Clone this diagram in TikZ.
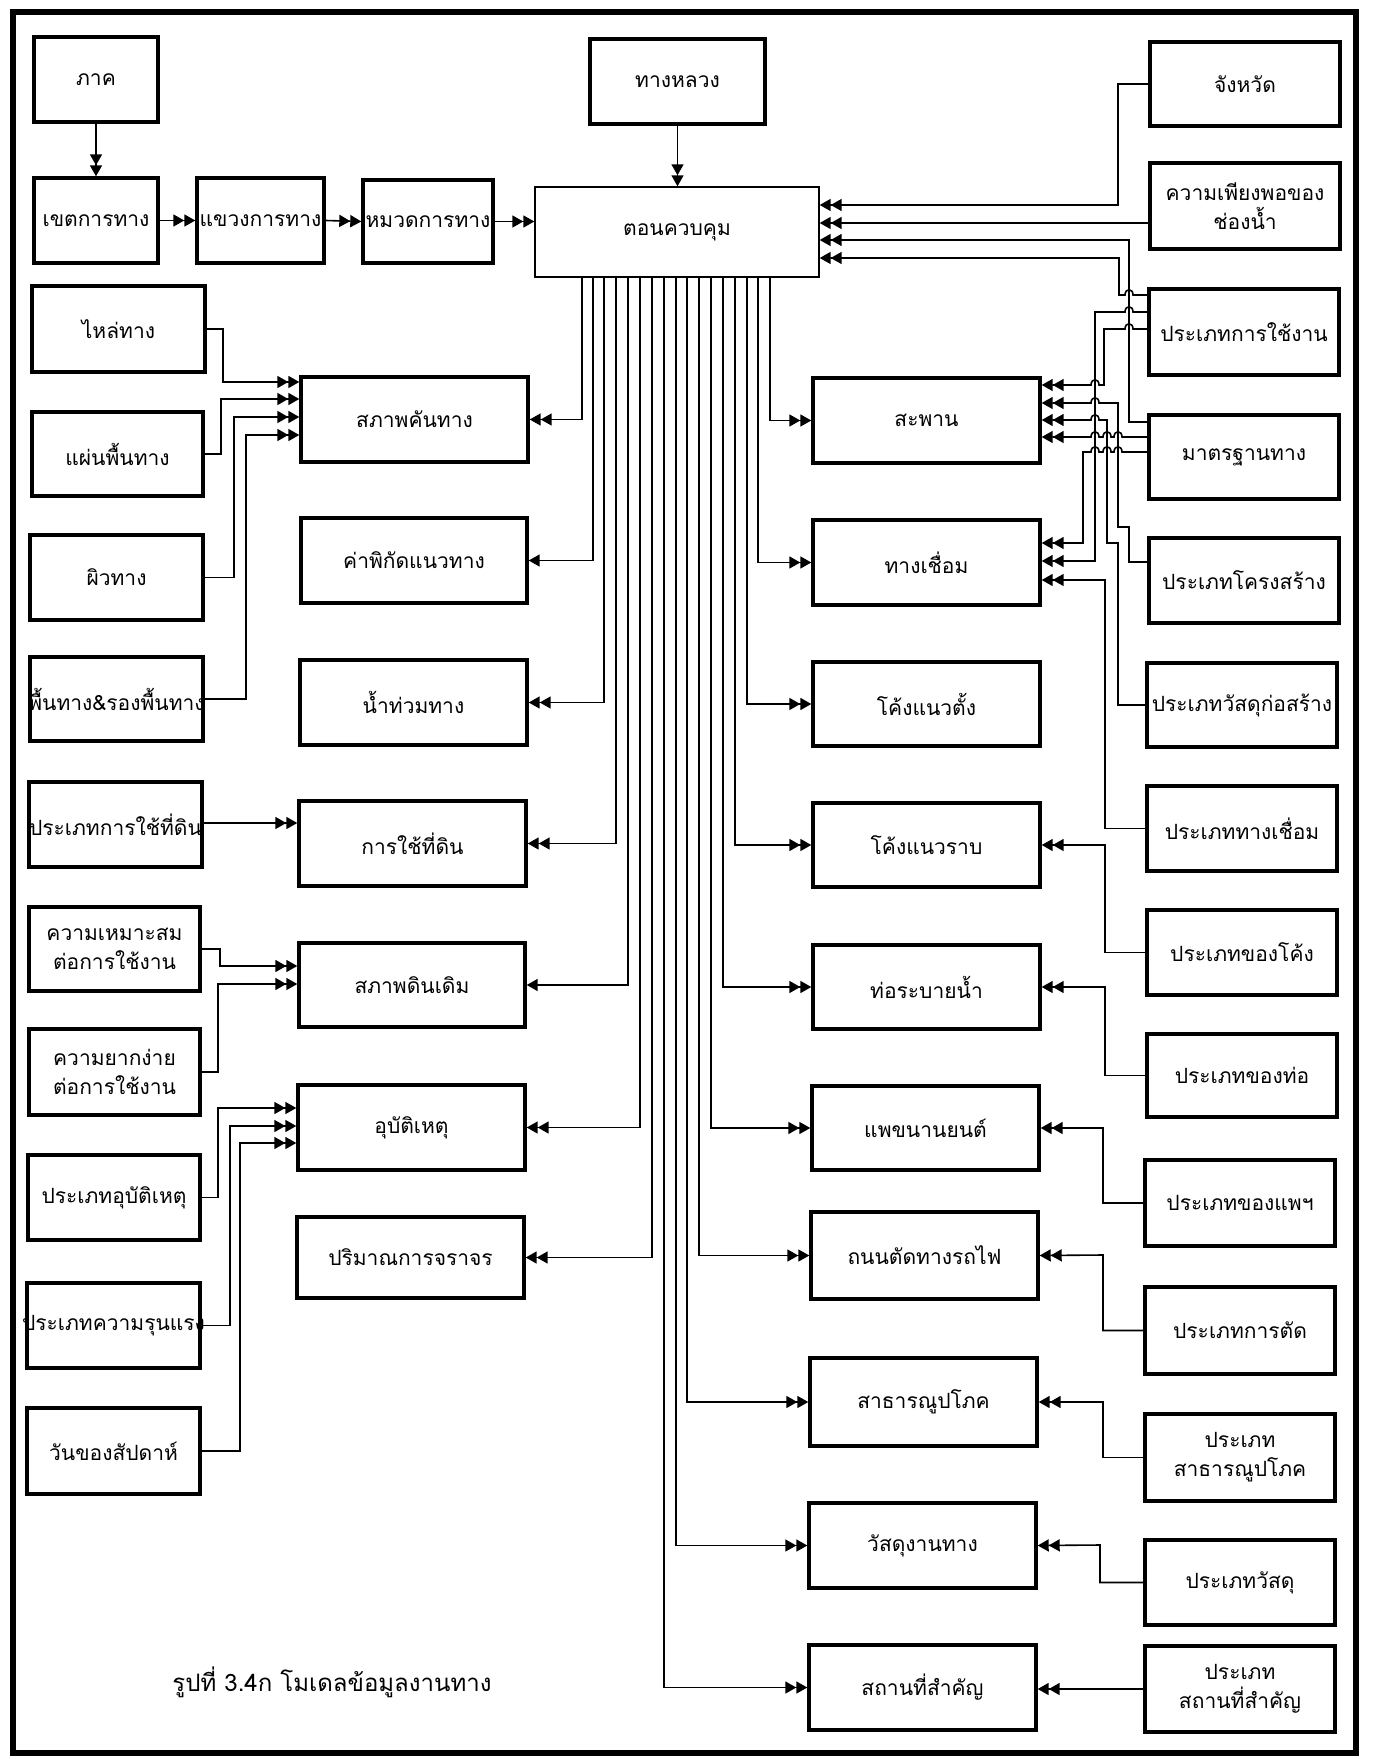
\documentclass[tikz,border=0pt]{standalone}
\usepackage{fontspec}
\newfontfamily\thai[Script=Thai]{Loma}
\usetikzlibrary{arrows.meta}
\newcommand\zc[1]{\makebox[0pt]{#1}}
\newcommand\RBox[7][bx]{\node[#1, minimum width={(#5-#3)*0.5pt}, minimum height={(#6-#4)*0.5pt}] (#2) at ({(#3+#5)/2},{(#4+#6)/2}) {#7};}
\begin{document}
\begin{tikzpicture}[x=0.5pt,y=-0.5pt,
  bx/.style={draw, line width=1.7pt, inner sep=0pt, align=center, font=\thai\fontsize{10.5}{14.5}\selectfont},
  thinbx/.style={bx, line width=0.7pt},
  conn/.style={line width=0.8pt},
  d2/.style={-{Triangle[length=5.5pt,width=6pt]Triangle[length=5.5pt,width=6pt]}},
  s1/.style={-{Triangle[length=5.5pt,width=6pt]}}]
\fill[white] (0,0) rectangle (1372,1759);
\useasboundingbox (0,0) rectangle (1372,1759);
\draw[line width=2.8pt] (13,12) rectangle (1356,1753);

% top row
\RBox{region}{34}{37}{158}{122}{\zc{ภาค}}
\RBox{dist}{34}{178}{158}{263}{\zc{เขตการทาง}}
\RBox{subdist}{197}{178}{324}{263}{\zc{แขวงการทาง}}
\RBox{unit}{363}{180}{493}{263}{\zc{หมวดการทาง}}
\RBox[thinbx]{ctl}{535}{187}{819}{277}{\zc{ตอนควบคุม}}
\RBox{hw}{590}{39}{765}{124}{\zc{ทางหลวง}}

% right column
\RBox{prov}{1150}{42}{1340}{126}{\zc{จังหวัด}}
\RBox{water}{1150}{163}{1340}{249}{\zc{ความเพียงพอของ}\\\zc{ช่องน้ำ}}
\RBox{use}{1149}{289}{1339}{375}{\zc{ประเภทการใช้งาน}}
\RBox{std}{1149}{415}{1339}{499}{\zc{มาตรฐานทาง}}
\RBox{struct}{1149}{538}{1339}{623}{\zc{ประเภทโครงสร้าง}}
\RBox{mat}{1147}{663}{1337}{747}{\zc{ประเภทวัสดุก่อสร้าง}}
\RBox{ltype}{1147}{786}{1337}{871}{\zc{ประเภททางเชื่อม}}
\RBox{ctype}{1147}{910}{1337}{995}{\zc{ประเภทของโค้ง}}
\RBox{ptype}{1147}{1034}{1337}{1117}{\zc{ประเภทของท่อ}}
\RBox{ftype}{1145}{1160}{1335}{1246}{\zc{ประเภทของแพฯ}}
\RBox{xtype}{1145}{1287}{1335}{1374}{\zc{ประเภทการตัด}}
\RBox{utype}{1145}{1414}{1335}{1501}{\zc{ประเภท}\\\zc{สาธารณูปโภค}}
\RBox{mtype}{1145}{1540}{1335}{1625}{\zc{ประเภทวัสดุ}}
\RBox{ptype2}{1145}{1646}{1335}{1732}{\zc{ประเภท}\\\zc{สถานที่สำคัญ}}

% centre-right column
\RBox{bridge}{813}{378}{1040}{463}{\zc{สะพาน}}
\RBox{link}{813}{520}{1040}{605}{\zc{ทางเชื่อม}}
\RBox{vc}{813}{662}{1040}{746}{\zc{โค้งแนวตั้ง}}
\RBox{hc}{813}{803}{1040}{887}{\zc{โค้งแนวราบ}}
\RBox{pipe}{813}{945}{1040}{1029}{\zc{ท่อระบายน้ำ}}
\RBox{ferry}{812}{1086}{1039}{1170}{\zc{แพขนานยนต์}}
\RBox{rail}{811}{1212}{1038}{1299}{\zc{ถนนตัดทางรถไฟ}}
\RBox{util}{810}{1358}{1037}{1446}{\zc{สาธารณูปโภค}}
\RBox{mats}{809}{1503}{1036}{1588}{\zc{วัสดุงานทาง}}
\RBox{place}{809}{1645}{1036}{1730}{\zc{สถานที่สำคัญ}}

% centre-left column
\RBox{emb}{301}{377}{528}{462}{\zc{สภาพคันทาง}}
\RBox{coord}{301}{518}{527}{603}{\zc{ค่าพิกัดแนวทาง}}
\RBox{flood}{300}{660}{527}{745}{\zc{น้ำท่วมทาง}}
\RBox{land}{299}{801}{526}{886}{\zc{การใช้ที่ดิน}}
\RBox{soil}{299}{943}{525}{1027}{\zc{สภาพดินเดิม}}
\RBox{acc}{298}{1085}{525}{1170}{\zc{อุบัติเหตุ}}
\RBox{traffic}{297}{1217}{524}{1298}{\zc{ปริมาณการจราจร}}

% left column
\RBox{sh}{32}{286}{205}{372}{\zc{ไหล่ทาง}}
\RBox{slab}{32}{412}{203}{496}{\zc{แผ่นพื้นทาง}}
\RBox{surf}{30}{535}{203}{620}{\zc{ผิวทาง}}
\RBox{base}{30}{657}{203}{741}{\zc{พื้นทาง\&รองพื้นทาง}}
\RBox{ltype2}{29}{782}{202}{867}{\zc{ประเภทการใช้ที่ดิน}}
\RBox{suit}{29}{907}{200}{991}{\zc{ความเหมาะสม}\\\zc{ต่อการใช้งาน}}
\RBox{ease}{29}{1029}{200}{1115}{\zc{ความยากง่าย}\\\zc{ต่อการใช้งาน}}
\RBox{atype}{28}{1155}{200}{1240}{\zc{ประเภทอุบัติเหตุ}}
\RBox{sev}{27}{1283}{200}{1368}{\zc{ประเภทความรุนแรง}}
\RBox{dow}{27}{1408}{200}{1494}{\zc{วันของสัปดาห์}}

\node[font=\thai\fontsize{12}{14}\selectfont] (cap) at (332,1682) {รูปที่ 3.4ก โมเดลข้อมูลงานทาง};

% top connectors
\draw[conn,d2] (region.south) -- (dist.north);
\draw[conn,d2] (dist.east) -- (subdist.west);
\draw[conn,d2] (subdist.east) -- (unit.west);
\draw[conn,d2] (unit.east) -- (unit.east -| ctl.west);
\draw[conn,d2] (hw.south) -- (hw.south |- ctl.north);

% into ctl from right
\draw[conn,d2] (prov.west) -| (1118,205) -- (ctl.east |- 0,205);
\draw[conn,d2] (water.west |- 0,223) -- (ctl.east |- 0,223);
\draw[conn,d2] (std.west |- 0,422) -| (1129,240) -- (ctl.east |- 0,240);
\draw[conn,d2] (use.west |- 0,295) -- (1133,295) .. controls +(0,-7) and +(0,-7) .. (1125,295) -| (1119,258) -- (ctl.east |- 0,258);

% into bridge
\draw[conn,d2] (use.west |- 0,329) -- (1133,329) .. controls +(0,-7) and +(0,-7) .. (1125,329) -| (1104,385)
  -- (1099,385) .. controls +(0,-7) and +(0,-7) .. (1091,385) -- (bridge.east |- 0,385);
\draw[conn,d2] (struct.west |- 0,562) -| (1129,527) -| (1118,403)
  -- (1099,403) .. controls +(0,-7) and +(0,-7) .. (1091,403) -- (bridge.east |- 0,403);
\draw[conn,d2] (mat.west) -| (1118,543) -| (1107,420)
  -- (1099,420) .. controls +(0,-7) and +(0,-7) .. (1091,420) -- (bridge.east |- 0,420);
\draw[conn,d2] (std.west |- 0,437) -- (1122,437) .. controls +(0,-7) and +(0,-7) .. (1114,437)
  -- (1111,437) .. controls +(0,-7) and +(0,-7) .. (1103,437)
  -- (1099,437) .. controls +(0,-7) and +(0,-7) .. (1091,437) -- (bridge.east |- 0,437);

% into link
\draw[conn,d2] (std.west |- 0,452) -- (1122,452) .. controls +(0,-7) and +(0,-7) .. (1114,452)
  -- (1111,452) .. controls +(0,-7) and +(0,-7) .. (1103,452)
  -- (1099,452) .. controls +(0,-7) and +(0,-7) .. (1091,452) -| (1083,543) -- (link.east |- 0,543);
\draw[conn,d2] (use.west |- 0,312) -- (1133,312) .. controls +(0,-7) and +(0,-7) .. (1125,312) -| (1095,561) -- (link.east |- 0,561);
\draw[conn,d2] (ltype.west) -| (1105,580) -- (link.east |- 0,580);

% lower right
\draw[conn,d2] (ctype.west) -| (1105,845) -- (hc.east);
\draw[conn,d2] (ptype.west) -| (1105,987) -- (pipe.east);
\draw[conn,d2] (ftype.west) -| (1103,1128) -- (ferry.east);
\draw[conn,d2] (xtype.west) -| (1103,1255) -- (rail.east);
\draw[conn,d2] (utype.west) -| (1103,1402) -- (util.east);
\draw[conn,d2] (mtype.west) -| (1100,1545) -- (mats.east);
\draw[conn,d2] (ptype2.west) -- (ptype2.west -| place.east);

% left side
\draw[conn,d2] (sh.east) -| (223,382) -- (emb.west |- 0,382);
\draw[conn,d2] (slab.east) -| (221,399) -- (emb.west |- 0,399);
\draw[conn,d2] (surf.east) -| (234,417) -- (emb.west |- 0,417);
\draw[conn,d2] (base.east) -| (246,435) -- (emb.west |- 0,435);
\draw[conn,d2] (ltype2.east |- 0,823) -- (land.west |- 0,823);
\draw[conn,d2] (suit.east) -| (220,966) -- (soil.west |- 0,966);
\draw[conn,d2] (ease.east) -| (218,984) -- (soil.west |- 0,984);
\draw[conn,d2] (atype.east) -| (218,1108) -- (acc.west |- 0,1108);
\draw[conn,d2] (sev.east) -| (230,1126) -- (acc.west |- 0,1126);
\draw[conn,d2] (dow.east) -| (240,1143) -- (acc.west |- 0,1143);

% bundle from ctl
\draw[conn,d2] (582,0 |- ctl.south) |- (emb.east);
\draw[conn,s1] (593,0 |- ctl.south) |- (coord.east);
\draw[conn,d2] (604,0 |- ctl.south) |- (flood.east);
\draw[conn,d2] (616,0 |- ctl.south) |- (land.east);
\draw[conn,s1] (628,0 |- ctl.south) |- (soil.east);
\draw[conn,d2] (640,0 |- ctl.south) |- (acc.east);
\draw[conn,d2] (652,0 |- ctl.south) |- (traffic.east);
\draw[conn,d2] (664,0 |- ctl.south) |- (place.west);
\draw[conn,d2] (676,0 |- ctl.south) |- (mats.west);
\draw[conn,d2] (687,0 |- ctl.south) |- (util.west);
\draw[conn,d2] (699,0 |- ctl.south) |- (rail.west);
\draw[conn,d2] (711,0 |- ctl.south) |- (ferry.west);
\draw[conn,d2] (723,0 |- ctl.south) |- (pipe.west);
\draw[conn,d2] (735,0 |- ctl.south) |- (hc.west);
\draw[conn,d2] (747,0 |- ctl.south) |- (vc.west);
\draw[conn,d2] (758,0 |- ctl.south) |- (link.west);
\draw[conn,d2] (770,0 |- ctl.south) |- (bridge.west);
\end{tikzpicture}
\end{document}
